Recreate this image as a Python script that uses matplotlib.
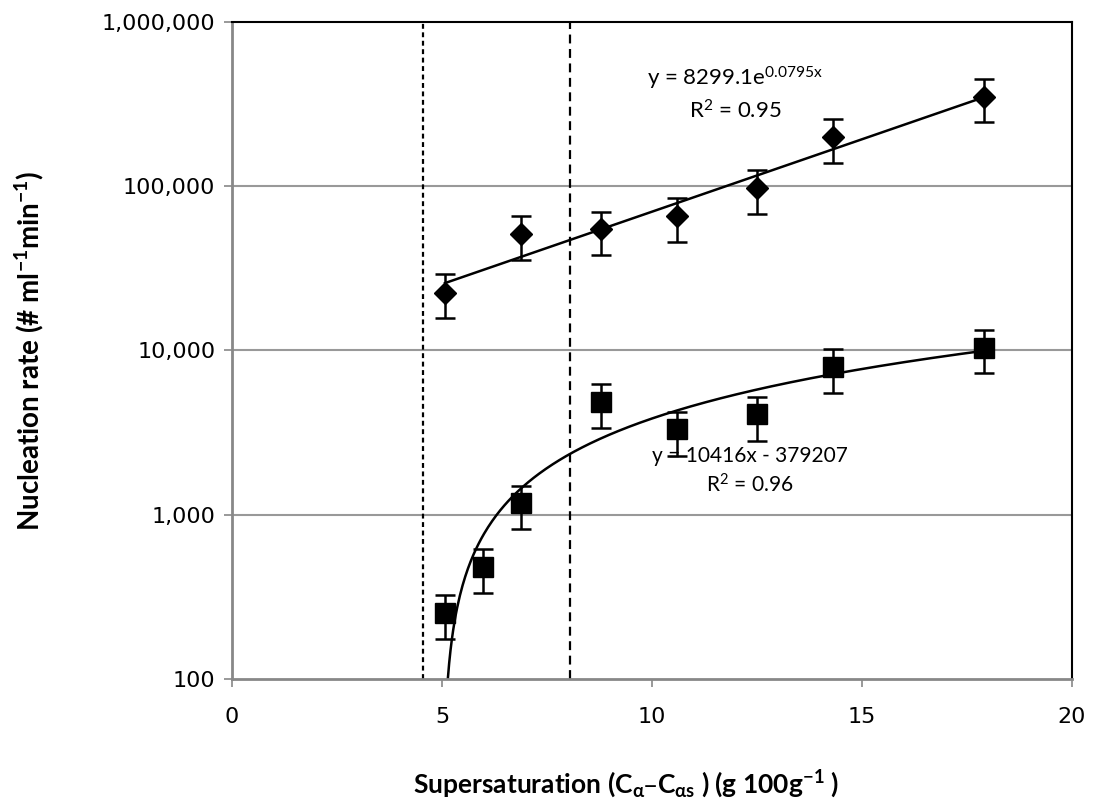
import numpy as np
import matplotlib
matplotlib.use("Agg")
import matplotlib.pyplot as plt
from matplotlib.ticker import FixedLocator, FuncFormatter, NullLocator

# Datos
x_diamond = [5.07, 6.88, 8.79, 10.6, 12.5, 14.3, 17.9]
y_diamond = [22300, 50900, 54700, 66200, 97000, 200600, 351000]
y_diamond_low = [15800, 35600, 38100, 45900, 67400, 139000, 245000]
y_diamond_high = [29300, 66200, 70000, 85100, 125600, 256500, 450000]

x_square = [5.07, 5.98, 6.88, 8.79, 10.6, 12.5, 14.3, 17.9]
y_square = [251, 483, 1175, 4840, 3310, 4080, 7910, 10350]
y_square_low = [175, 333, 818, 3360, 2280, 2820, 5540, 7260]
y_square_high = [325, 618, 1500, 6220, 4240, 5230, 10200, 13400]

dashed_x = [4.55, 8.05]
x_ticks = [0, 5, 10, 15, 20]
y_ticks = [100, 1000, 10000, 100000, 1000000]

eq_exp = r"y = 8299.1e$\mathregular{^{0.0795x}}$"
r2_exp = r"R$\mathregular{^2}$ = 0.95"
eq_lin = "y = 10416x - 379207"
r2_lin = r"R$\mathregular{^2}$ = 0.96"

fig = plt.figure(figsize=(10.94, 8.05), dpi=100)
ax = fig.add_axes([0.2121, 0.1565, 0.7678, 0.8162])

ax.set_xlim(0, 20)
ax.set_yscale("log")
ax.set_ylim(100, 1000000)

# Rejilla horizontal
for yv in y_ticks[1:-1]:
    ax.axhline(yv, color="#999999", lw=1.5, zorder=0)

# Lineas verticales discontinuas
ax.axvline(dashed_x[0], color="black", lw=1.6, ls=(0, (2.2, 1.6)), zorder=1)
ax.axvline(dashed_x[1], color="black", lw=1.6, ls=(0, (4, 2.5)), zorder=1)

# Serie rombos
xd = np.array(x_diamond)
yd = np.array(y_diamond)
err_d = [yd - np.array(y_diamond_low), np.array(y_diamond_high) - yd]
ax.errorbar(xd, yd, yerr=err_d, fmt="D", color="black", ms=11,
            ecolor="black", elinewidth=1.8, capsize=7, capthick=1.8, zorder=3)
k, c = np.polyfit(xd, np.log(yd), 1)
xx = np.linspace(xd.min(), xd.max(), 100)
ax.plot(xx, np.exp(c + k * xx), color="black", lw=1.8, zorder=2)

# Serie cuadrados
xs = np.array(x_square)
ys = np.array(y_square)
err_s = [ys - np.array(y_square_low), np.array(y_square_high) - ys]
ax.errorbar(xs, ys, yerr=err_s, fmt="s", color="black", ms=14,
            ecolor="black", elinewidth=1.8, capsize=7, capthick=1.8, zorder=3)
m, b = np.polyfit(xs, ys, 1)
x0 = (100 - b) / m
xx2 = np.linspace(x0, xs.max(), 400)
ax.plot(xx2, m * xx2 + b, color="black", lw=1.8, zorder=2)

# Ecuaciones
tf = dict(family=["Lato", "DejaVu Sans"], ha="center", va="center")
ax.text(11.98, 10 ** 5.655, eq_exp, fontsize=16, **tf)
ax.text(11.98, 10 ** 5.46, r2_exp, fontsize=16, **tf)
ax.text(12.33, 10 ** 3.36, eq_lin, fontsize=15, **tf)
ax.text(12.33, 10 ** 3.18, r2_lin, fontsize=15, **tf)

# Ejes
ax.xaxis.set_major_locator(FixedLocator(x_ticks))
ax.yaxis.set_major_locator(FixedLocator(y_ticks))
ax.yaxis.set_minor_locator(NullLocator())
ax.yaxis.set_major_formatter(FuncFormatter(lambda v, p: f"{int(round(v)):,}"))
ax.tick_params(axis="both", direction="out", length=6, width=1.2,
               color="#888888", labelsize=16, pad=6)
ax.tick_params(axis="x", pad=14)
for lab in ax.get_xticklabels() + ax.get_yticklabels():
    lab.set_family("DejaVu Sans")

ax.spines["left"].set_color("#888888")
ax.spines["bottom"].set_color("#888888")
ax.spines["left"].set_linewidth(2)
ax.spines["bottom"].set_linewidth(2)
ax.spines["top"].set_color("black")
ax.spines["right"].set_color("black")
ax.spines["top"].set_linewidth(1.5)
ax.spines["right"].set_linewidth(1.5)

ax.set_xlabel(r"Supersaturation (C$\mathregular{_{α}}$–C$\mathregular{_{αs}}$ ) (g 100g$\mathregular{^{-1}}$ )",
              family=["Lato", "DejaVu Sans"], fontsize=19, fontweight="bold")
ax.set_ylabel(r"Nucleation rate (# ml$\mathregular{^{-1}}$min$\mathregular{^{-1}}$)",
              family=["Lato", "DejaVu Sans"], fontsize=20, fontweight="bold")
ax.xaxis.set_label_coords(0.469, -0.135)
ax.yaxis.set_label_coords(-0.222, 0.5)

fig.savefig("out.png", dpi=100)
